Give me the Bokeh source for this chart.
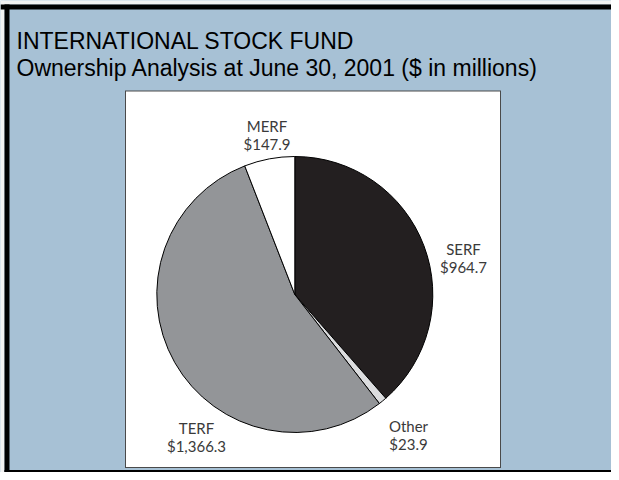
import math
from bokeh.plotting import figure
from bokeh.models import ColumnDataSource, Range1d, BoxAnnotation, Label
from bokeh.core.properties import value
from bokeh.embed import file_html
from bokeh.resources import INLINE

# ---------------- data ----------------
categories = ["SERF", "Other", "TERF", "MERF"]
amounts = [964.7, 23.9, 1366.3, 147.9]
slice_colors = ["#231F20", "#DCDDDF", "#939598", "#FFFFFF"]
title_line1 = "INTERNATIONAL STOCK FUND"
title_line2 = "Ownership Analysis at June 30, 2001 ($ in millions)"

# ---------------- layout (reference pixel coordinates) ----------------
W, H = 611, 472


def Y(ry):
    return H - ry


cx, cy, r = 294.3, 294.0, 138.0
label_pos = {  # center x, name baseline, value baseline
    "SERF": (463, 248.5, 266),
    "Other": (408, 425.7, 443.5),
    "TERF": (196, 427.3, 445),
    "MERF": (266.5, 125.8, 143.4),
}

total = sum(amounts)
starts, ends = [], []
a = math.pi / 2
for v in amounts:
    starts.append(a)
    a -= 2 * math.pi * v / total
    ends.append(a)

src = ColumnDataSource(dict(
    cat=categories, amt=amounts, color=slice_colors,
    start=starts, end=ends,
    x=[cx] * len(categories), y=[Y(cy)] * len(categories),
))

lab = ColumnDataSource(dict(
    name=categories,
    val=["${:,.1f}".format(v) for v in amounts],
    lx=[label_pos[c][0] for c in categories],
    ny=[Y(label_pos[c][1]) for c in categories],
    vy=[Y(label_pos[c][2]) for c in categories],
))

BLUE = "#A7C1D5"
p = figure(width=W, height=H, output_backend="svg", toolbar_location=None,
           x_range=Range1d(0, W), y_range=Range1d(0, H),
           min_border=0, background_fill_color=BLUE,
           border_fill_color=BLUE, outline_line_color=None)
p.xaxis.visible = False
p.yaxis.visible = False
p.grid.visible = False


def box(left, right, top, bottom, color, line_color=None, line_width=1):
    p.add_layout(BoxAnnotation(left=left, right=right, top=Y(top), bottom=Y(bottom),
                               fill_color=color, fill_alpha=1, level="underlay",
                               line_color=line_color, line_alpha=1,
                               line_width=line_width))


# light strip outside the frame, then outer black frame
box(0, W, 0, 4, "#F2F2F2")
box(0, 4, 0, H, "#F2F2F2")
box(0, W, 4, 9, "black")
box(4, 9, 4, H, "black")
box(4, W, 469.5, H, "black")

# white panel with dark grey edge
box(124.5, 500.5, 90, 467.5, "#4A4A4A")
box(125.5, 499.5, 91, 466.5, "white")

p.wedge(x="x", y="y", radius=r, start_angle="start", end_angle="end",
        direction="clock", fill_color="color", line_color="black",
        line_width=1, source=src)

p.text(x="lx", y="ny", text="name", source=lab,
       text_font=value("Lato"), text_font_size=value("15px"),
       text_color="#3A3A3A", text_align="center", text_baseline="alphabetic")
p.text(x="lx", y="vy", text="val", source=lab,
       text_font=value("Lato"), text_font_size=value("15px"),
       text_color="#3A3A3A", text_align="center", text_baseline="alphabetic")

p.add_layout(Label(x=16, y=Y(40), text=title_line1,
                   text_font="Liberation Sans", text_font_size="23px",
                   text_color="black", text_baseline="alphabetic"))
p.add_layout(Label(x=16, y=Y(67.3), text=title_line2,
                   text_font="Liberation Sans", text_font_size="23px",
                   text_color="black", text_baseline="alphabetic"))

open("out.html", "w").write(file_html(p, INLINE))
